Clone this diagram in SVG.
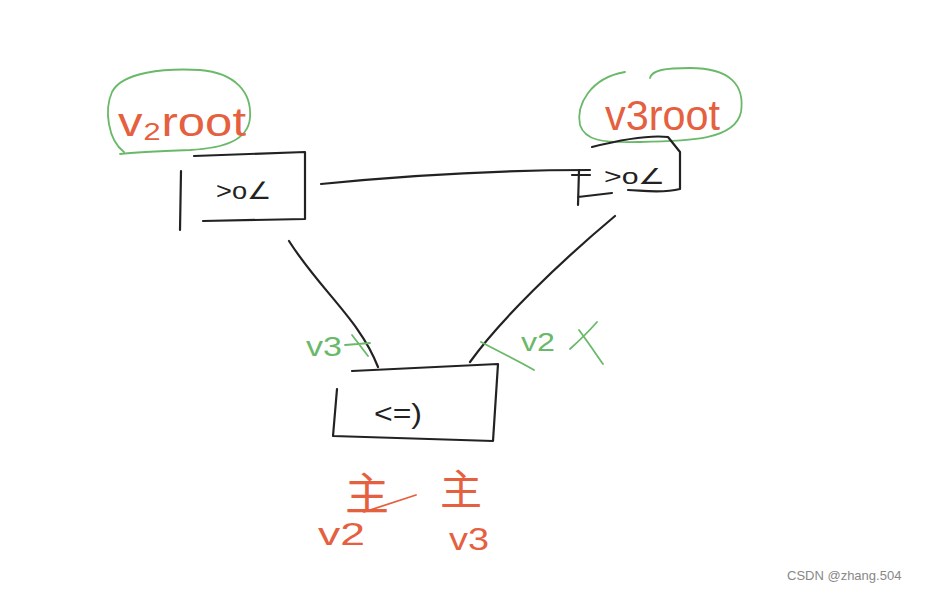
<svg xmlns="http://www.w3.org/2000/svg" width="927" height="592" viewBox="0 0 927 592">
<style>
.k{fill:none;stroke:#222;stroke-width:2.2;stroke-linecap:round;stroke-linejoin:round}
.g{fill:none;stroke:#6ab96a;stroke-width:1.8;stroke-linecap:round;stroke-linejoin:round}
.r{fill:none;stroke:#e5603f;stroke-width:1.8;stroke-linecap:round}
.tr{font-family:"Liberation Sans","Noto Sans CJK SC",sans-serif;fill:#e5603f}
.tg{font-family:"Liberation Sans",sans-serif;fill:#6ab96a}
.tk{font-family:"Liberation Sans",sans-serif;fill:#222}
</style>
<rect width="927" height="592" fill="#fff"/>
<g id="root-v2">
<path class="g" d="M124,152 C108,140 104,110 112,92 C122,72 165,68 200,70 C235,73 252,92 250,118 C248,140 225,148 190,150 C160,151 135,152 120,154"/>
<text class="tr" x="118" y="136" font-size="40" textLength="128" lengthAdjust="spacingAndGlyphs">v₂root</text>
</g>
<g id="root-v3">
<path class="g" d="M625,72 C590,78 576,105 580,125 C585,140 600,143 640,142 C690,141 735,140 741,112 C745,85 730,68 690,68 C665,68 652,70 650,78"/>
<text class="tr" x="605" y="130" font-size="42" textLength="115" lengthAdjust="spacingAndGlyphs">v3root</text>
</g>
<g id="switch-left">
<path class="k" d="M194,156 L305,152 L305,219 L203,221 M181,171 L180,230"/>
<text class="tk" x="216" y="199" font-size="24" textLength="56" lengthAdjust="spacingAndGlyphs">&gt;o∠</text>
</g>
<g id="switch-right">
<path class="k" d="M592,147 C620,140 650,135 668,137 L680,152 L680,189 C660,194 640,190 628,190 M579,170 L578,205 M578,197 L612,193 M572,175 L590,175"/>
<text class="tk" x="604" y="184" font-size="22" textLength="62" lengthAdjust="spacingAndGlyphs">&gt;o∠</text>
</g>
<g id="switch-bottom">
<path class="k" d="M352,371 L498,364 L493,441 L333,436 M337,389 L333,436"/>
<text class="tk" x="374" y="423" font-size="28" textLength="48" lengthAdjust="spacingAndGlyphs">&lt;=)</text>
</g>
<g id="connectors">
<path class="k" d="M321,184 C400,176 500,170 590,170"/>
<path class="k" d="M289,241 C320,290 360,320 378,367"/>
<path class="k" d="M615,216 C560,262 500,320 470,362"/>
</g>
<g id="labels">
<text class="tg" x="306" y="356" font-size="28" textLength="36" lengthAdjust="spacingAndGlyphs">v3</text>
<path class="g" d="M345,345 L370,343 M352,335 L368,356"/>
<path class="g" d="M481,342 C500,352 520,362 534,370"/>
<text class="tg" x="521" y="351" font-size="26" textLength="34" lengthAdjust="spacingAndGlyphs">v2</text>
<path class="g" d="M570,349 C580,340 590,330 597,322 M579,330 C590,345 598,357 603,364"/>
<text class="tr" x="345" y="510" font-size="44">主</text>
<path class="r" d="M364,512 L416,495"/>
<text class="tr" x="318" y="545" font-size="32" textLength="47" lengthAdjust="spacingAndGlyphs">v2</text>
<text class="tr" x="440" y="505" font-size="42">主</text>
<text class="tr" x="449" y="550" font-size="32" textLength="40" lengthAdjust="spacingAndGlyphs">v3</text>
<text x="787" y="580" font-family="Liberation Sans,sans-serif" font-size="13" fill="#888">CSDN @zhang.504</text>
</g>
</svg>
